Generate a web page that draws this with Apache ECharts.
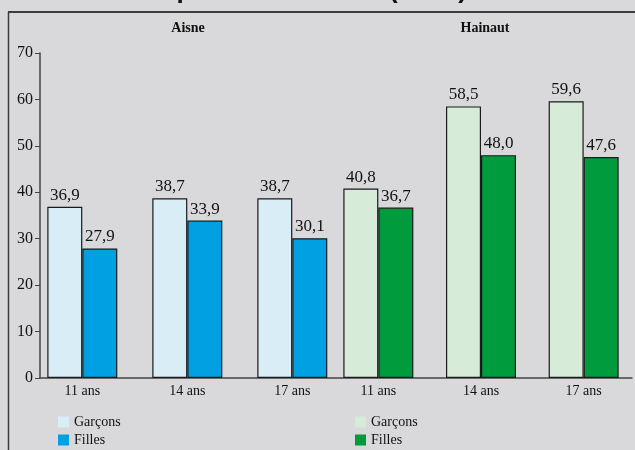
<!DOCTYPE html>
<html>
<head>
<meta charset="utf-8">
<script src="https://cdn.jsdelivr.net/npm/echarts@6/dist/echarts.min.js"></script>
<style>
  html, body { margin: 0; padding: 0; background: #d9d9db; }
  #chart { width: 635px; height: 450px; }
</style>
</head>
<body>
<div id="chart"></div>
<script>
// Age groups shown under each panel
const ageGroups = ['11 ans', '14 ans', '17 ans'];

// Aisne (percent)
const aisneGarcons = [36.9, 38.7, 38.7];
const aisneFilles  = [27.9, 33.9, 30.1];

// Hainaut (percent)
const hainautGarcons = [40.8, 58.5, 59.6];
const hainautFilles  = [36.7, 48.0, 47.6];

// Value axis
const yMin = 0;
const yMax = 70;
const yStep = 10;

const chartTitle = 'Enfants en surpoids ou obèses (en %)';
const panelNames = ['Aisne', 'Hainaut'];
const sexes = ['Garçons', 'Filles'];

const SERIF = '"Liberation Serif", "DejaVu Serif", serif';
const COLORS = {
  aisneLight: '#d9edf7',
  aisneDark: '#00a0e2',
  hainautLight: '#d7ebd9',
  hainautDark: '#009b3c'
};

const fmt = v => v.toFixed(1).replace('.', ',');

const chart = echarts.init(document.getElementById('chart'), null, { renderer: 'canvas' });

const gridTop = 53;
const gridBottom = 72;

function barSeries(panel, sex, values, color, axisIdx) {
  return {
    name: panel + '|' + sex,
    type: 'bar',
    xAxisIndex: axisIdx,
    yAxisIndex: axisIdx,
    data: values,
    barWidth: 35,
    barGap: '0%',
    itemStyle: { color: color, borderColor: '#1a1a1a', borderWidth: 1.2 },
    label: {
      show: true,
      position: 'top',
      distance: 3,
      formatter: p => fmt(p.value),
      fontFamily: SERIF,
      fontSize: 17,
      color: '#111'
    }
  };
}

const hiddenY = idx => ({
  type: 'value', gridIndex: idx, min: yMin, max: yMax, interval: yStep,
  show: false, splitLine: { show: false }
});

const catX = idx => ({
  type: 'category', gridIndex: idx, data: ageGroups,
  axisLine: { show: false }, axisTick: { show: false },
  splitLine: { show: false },
  axisLabel: { fontFamily: SERIF, fontSize: 14, color: '#111', margin: 6 }
});

// one legend entry per box so the two rows stack exactly
const legendItem = (name, left, top) => ({
  orient: 'vertical',
  left: left,
  top: top,
  itemWidth: 11,
  itemHeight: 11,
  icon: 'rect',
  selectedMode: false,
  data: [name],
  formatter: n => n.split('|')[1],
  itemStyle: { borderWidth: 0 },
  textStyle: { fontFamily: SERIF, fontSize: 14, color: '#111' }
});

chart.setOption({
  backgroundColor: '#d9d9db',
  animation: false,
  grid: [
    // frame holding the visible axes
    { left: 40, right: 3, top: gridTop, bottom: gridBottom },
    // Aisne panel
    { left: 29.8, width: 315, top: gridTop, bottom: gridBottom },
    // Hainaut panel
    { left: 327, width: 313.5, top: gridTop, bottom: gridBottom }
  ],
  xAxis: [
    {
      type: 'value', gridIndex: 0, min: 0, max: 1,
      axisLine: { show: true, lineStyle: { color: '#444', width: 1.5 } },
      axisTick: { show: false }, axisLabel: { show: false }, splitLine: { show: false }
    },
    catX(1),
    catX(2)
  ],
  yAxis: [
    {
      type: 'value', gridIndex: 0, min: yMin, max: yMax, interval: yStep,
      axisLine: { show: true, lineStyle: { color: '#444', width: 1.5 } },
      axisTick: { show: true, length: 5, lineStyle: { color: '#444', width: 1 } },
      axisLabel: { fontFamily: SERIF, fontSize: 16, color: '#111', margin: 7 },
      splitLine: { show: false }
    },
    hiddenY(1),
    hiddenY(2)
  ],
  legend: [
    legendItem(panelNames[0] + '|' + sexes[0], 53, 410),
    legendItem(panelNames[0] + '|' + sexes[1], 53, 428),
    legendItem(panelNames[1] + '|' + sexes[0], 350, 410),
    legendItem(panelNames[1] + '|' + sexes[1], 350, 428)
  ],
  series: [
    barSeries(panelNames[0], sexes[0], aisneGarcons, COLORS.aisneLight, 1),
    barSeries(panelNames[0], sexes[1], aisneFilles, COLORS.aisneDark, 1),
    barSeries(panelNames[1], sexes[0], hainautGarcons, COLORS.hainautLight, 2),
    barSeries(panelNames[1], sexes[1], hainautFilles, COLORS.hainautDark, 2)
  ],
  graphic: [
    {
      type: 'text', x: -4, y: -9, silent: true,
      style: {
        text: chartTitle,
        font: 'bold 26px "Liberation Sans", Arial, sans-serif',
        fill: '#111', textAlign: 'left', textVerticalAlign: 'middle'
      }
    },
    {
      type: 'line', silent: true,
      shape: { x1: 8, y1: 12, x2: 635, y2: 12 },
      style: { stroke: '#3c3c3c', lineWidth: 2 }
    },
    {
      type: 'line', silent: true,
      shape: { x1: 8.5, y1: 12, x2: 8.5, y2: 450 },
      style: { stroke: '#3c3c3c', lineWidth: 1.5 }
    },
    {
      type: 'text', x: 188, y: 28, silent: true,
      style: {
        text: panelNames[0], font: 'bold 14px ' + SERIF, fill: '#111',
        textAlign: 'center', textVerticalAlign: 'middle'
      }
    },
    {
      type: 'text', x: 485, y: 28, silent: true,
      style: {
        text: panelNames[1], font: 'bold 14px ' + SERIF, fill: '#111',
        textAlign: 'center', textVerticalAlign: 'middle'
      }
    }
  ]
});
</script>
</body>
</html>
